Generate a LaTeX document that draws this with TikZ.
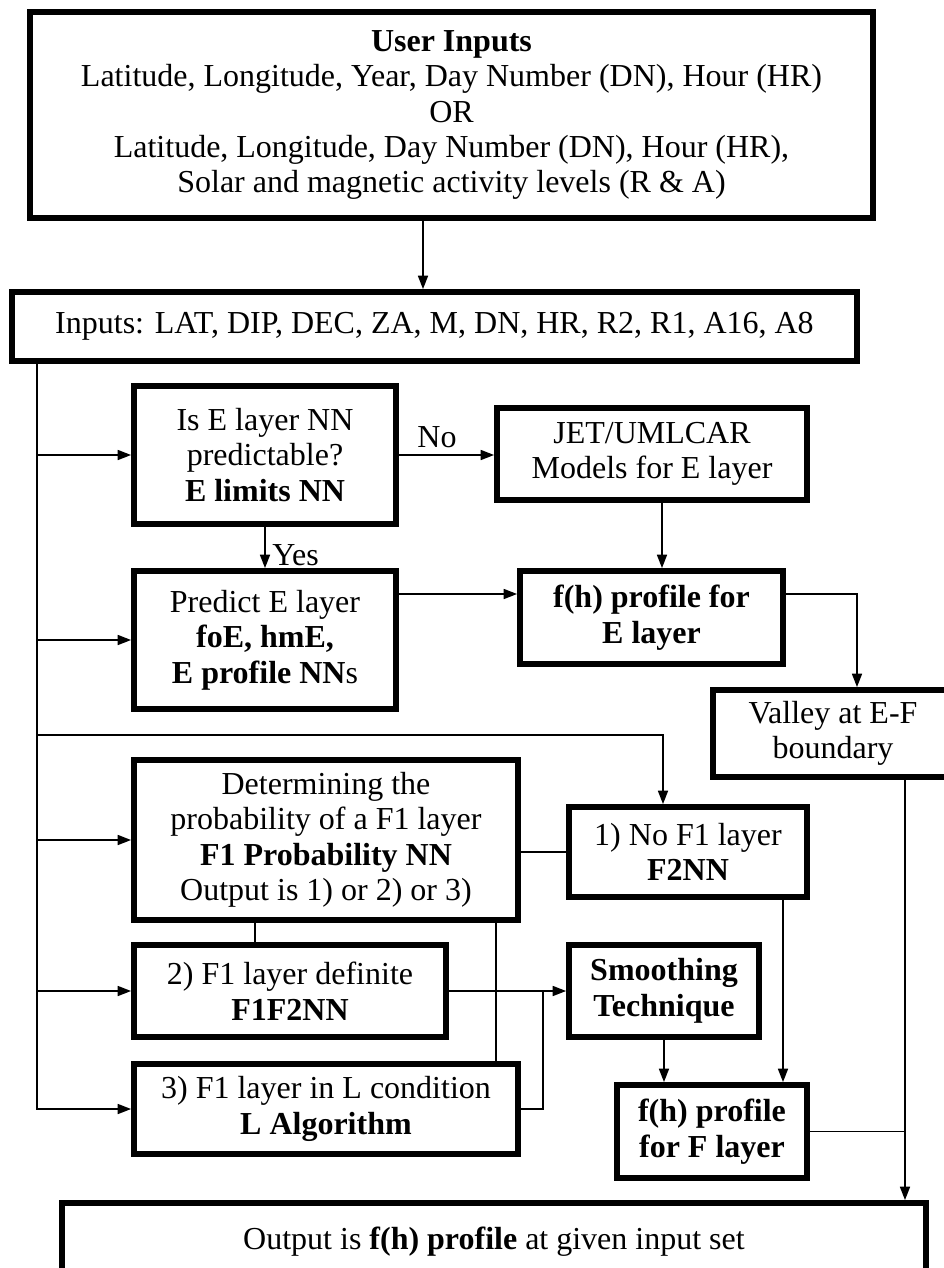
\documentclass[tikz,border=0pt]{standalone}
\usepackage{fontspec}
\setmainfont{Liberation Serif}
\usetikzlibrary{arrows.meta,calc}
\begin{document}
\begin{tikzpicture}[x=0.75pt,y=-0.75pt,
  box/.style={draw, line width=4.4pt, fill=white, align=center, inner sep=0pt,
    font=\fontsize{24}{26.6}\selectfont},
  sz/.style 2 args={minimum width=#1*0.75pt, minimum height=#2*0.75pt},
  conn/.style={line width=1.1pt},
  arr/.style={conn, -{Triangle[length=10pt,width=7.5pt]}},
  lbl/.style={font=\fontsize{24}{26.6}\selectfont, inner sep=0pt}]
\useasboundingbox (0,0) rectangle (944,1268);
\clip (0,0) rectangle (944,1268);

% nodes
\node[box, sz={843}{206}] (B1) at (451.5,115)
  {\textbf{User Inputs}\\Latitude, Longitude, Year, Day Number (DN), Hour (HR)\\OR\\Latitude, Longitude, Day Number (DN), Hour (HR),\\Solar and magnetic activity levels (R \& A)};
\node[box, sz={845}{69}] (B2) at (434.5,326.5)
  {Inputs: LAT, DIP, DEC, ZA, M, DN, HR, R2, R1, A16, A8};
\node[box, sz={262}{138}] (B3) at (265,455)
  {Is E layer NN\\predictable?\\\textbf{E limits NN}};
\node[box, sz={310}{92}] (B4) at (652,454)
  {JET/UMLCAR\\Models for E layer};
\node[box, sz={262}{138}] (B5) at (265,640)
  {Predict E layer\\\textbf{foE, hmE,}\\\textbf{E profile NN}s};
\node[box, sz={263}{93}] (B6) at (651.5,617.5)
  {\textbf{f(h) profile for}\\\textbf{E layer}};
\node[box, sz={240}{87}] (V) at (833,733.5)
  {Valley at E-F\\boundary};
\node[box, sz={384}{160}] (B7) at (326,840)
  {\raisebox{-4pt}{\parbox{384\dimexpr0.75pt\relax}{\centering Determining the\\probability of a F1 layer\\\textbf{F1 Probability NN}\\Output is 1) or 2) or 3)}}};
\node[box, sz={238}{90}] (B8) at (688,852)
  {1) No F1 layer\\\textbf{F2NN}};
\node[box, sz={312}{92}] (B9) at (290,991)
  {2) F1 layer definite\\\textbf{F1F2NN}};
\node[box, sz={190}{92}] (B11) at (664,991)
  {\textbf{Smoothing}\\\textbf{Technique}};
\node[box, sz={384}{90}] (B10) at (326,1109)
  {3) F1 layer in L condition\\\textbf{L Algorithm}};
\node[box, sz={190}{93}] (B12) at (712,1131.5)
  {\textbf{f(h) profile}\\\textbf{for F layer}};
\node[box, sz={864}{87}] (Out) at (494,1246.5)
  {\raisebox{13pt}{Output is \textbf{f(h) profile} at given input set}};

% helper coordinates
\coordinate (xA) at (423,0);
\coordinate (xS) at (37,0);
\coordinate (xB) at (662,0);
\coordinate (xC) at (663,0);
\coordinate (xV) at (857,0);
\coordinate (xW) at (905,0);
\coordinate (x255) at (255,0);
\coordinate (x496) at (496,0);
\coordinate (x543) at (543,0);
\coordinate (x783) at (783,0);
\coordinate (yBr) at (0,735);
\coordinate (y594) at (0,594);

% connectors
\draw[arr] (B1.south -| xA) -- (B2.north -| xA);
\draw[arr] (B2.south -| xS) |- (B10.west);
\draw[arr] (B3.west -| xS) -- (B3.west);
\draw[arr] (B5.west -| xS) -- (B5.west);
\draw[arr] (B7.west -| xS) -- (B7.west);
\draw[arr] (B9.west -| xS) -- (B9.west);
\draw[arr] (yBr -| xS) -| (B8.north -| xC);
\draw[arr] (B3.east) -- (B3.east -| B4.west);
\node[lbl] (no) at (437,437) {No};
\draw[arr] (B3.south) -- (B5.north);
\node[lbl, anchor=south west] (yes) at (272,566) {Yes};
\draw[arr] (B4.south -| xB) -- (B6.north -| xB);
\draw[arr] (B5.east |- y594) -- (B6.west |- y594);
\draw[arr] (B6.east |- y594) -| (V.north -| xV);
\draw[arr] (V.south -| xW) -- (Out.north -| xW);
\draw[conn] (B12.east) -- (B12.east -| xW);
\draw[conn] (B7.east |- B8.west) -- (B8.west);
\draw[conn] (B7.south -| x255) -- (B9.north -| x255);
\draw[conn] (B7.south -| x496) -- (B10.north -| x496);
\draw[arr] (B9.east) -- (B11.west);
\draw[conn] (B10.east) -| (B9.east -| x543);
\draw[arr] (B11.south) -- (B11.south |- B12.north);
\draw[arr] (B8.south -| x783) -- (B12.north -| x783);
\end{tikzpicture}
\end{document}
